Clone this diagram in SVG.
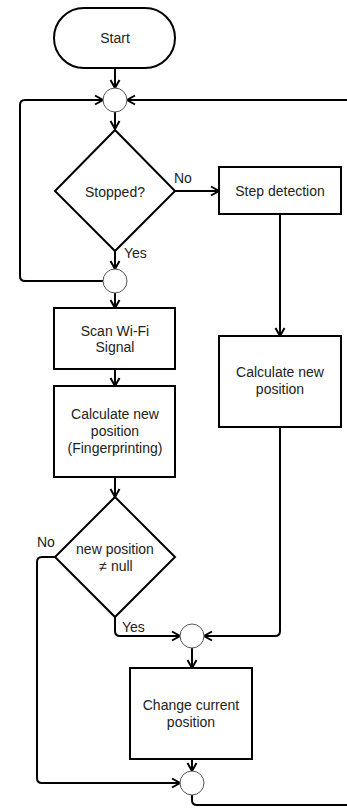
<svg xmlns="http://www.w3.org/2000/svg" width="347" height="808" viewBox="0 0 347 808">
<style>
.s{fill:#fff;stroke:#000;stroke-width:2}
.c{fill:#fff;stroke:#555;stroke-width:1}
.t{font-family:"Liberation Sans",Arial,sans-serif;font-size:14px;fill:#222;text-anchor:middle}
.l{font-family:"Liberation Sans",Arial,sans-serif;font-size:14px;fill:#222}
.e{fill:none;stroke:#000;stroke-width:2}
</style>
<defs>
<marker id="a" markerUnits="userSpaceOnUse" markerWidth="12" markerHeight="12" refX="9" refY="5" orient="auto" viewBox="0 0 12 10">
<path d="M1,0.5 L9,5 L1,9.5" fill="none" stroke="#000" stroke-width="2"/>
</marker>
</defs>
<rect width="347" height="808" fill="#fff"/>
<g id="connectors">
<path class="e" d="M115,68 V88" marker-end="url(#a)"/>
<path class="e" d="M115,112 V129" marker-end="url(#a)"/>
<path class="e" d="M175,191 H219" marker-end="url(#a)"/>
<path class="e" d="M115,251 V269" marker-end="url(#a)"/>
<path class="e" d="M103,281 H25 Q20,281 20,276 V105 Q20,100 25,100 H103" marker-end="url(#a)"/>
<path class="e" d="M115,293 V308" marker-end="url(#a)"/>
<path class="e" d="M115,369 V386" marker-end="url(#a)"/>
<path class="e" d="M115,477 V497" marker-end="url(#a)"/>
<path class="e" d="M115,617 V631 Q115,636 120,636 H180" marker-end="url(#a)"/>
<path class="e" d="M55,557 H42 Q37,557 37,562 V778 Q37,783 42,783 H180" marker-end="url(#a)"/>
<path class="e" d="M280,214 V336" marker-end="url(#a)"/>
<path class="e" d="M280,427 V631 Q280,636 275,636 H204" marker-end="url(#a)"/>
<path class="e" d="M192,648 V668" marker-end="url(#a)"/>
<path class="e" d="M192,759 V771" marker-end="url(#a)"/>
<path class="e" d="M192,795 V800 Q192,805 197,805 H352 V100 H127" marker-end="url(#a)"/>
<text class="l" x="174" y="183">No</text>
<text class="l" x="124" y="258">Yes</text>
<text class="l" x="37" y="547">No</text>
<text class="l" x="122" y="632">Yes</text>
</g>
<g id="start"><rect class="s" x="54" y="8" width="121" height="60" rx="30"/><text class="t" x="115" y="43">Start</text></g>
<g id="merge1"><circle class="c" cx="115" cy="100" r="12"/></g>
<g id="stopped"><polygon class="s" points="115,130 175,191 115,251 55,191"/><text class="t" x="115" y="197">Stopped?</text></g>
<g id="step"><rect class="s" x="219" y="167" width="122" height="47"/><text class="t" x="280" y="196">Step detection</text></g>
<g id="merge2"><circle class="c" cx="115" cy="281" r="12"/></g>
<g id="scan"><rect class="s" x="54" y="308" width="121" height="61"/><text class="t" x="115" y="336">Scan Wi-Fi</text><text class="t" x="115" y="352">Signal</text></g>
<g id="calcfp"><rect class="s" x="54" y="386" width="121" height="91"/><text class="t" x="115" y="419">Calculate new</text><text class="t" x="115" y="436">position</text><text class="t" x="115" y="453">(Fingerprinting)</text></g>
<g id="calcstep"><rect class="s" x="219" y="336" width="122" height="91"/><text class="t" x="280" y="377">Calculate new</text><text class="t" x="280" y="394">position</text></g>
<g id="notnull"><polygon class="s" points="115,497 175,557 115,617 55,557"/><text class="t" x="115" y="554">new position</text><text class="t" x="116" y="571">≠ null</text></g>
<g id="merge3"><circle class="c" cx="192" cy="636" r="12"/></g>
<g id="change"><rect class="s" x="130" y="668" width="122" height="91"/><text class="t" x="191" y="710">Change current</text><text class="t" x="191" y="727">position</text></g>
<g id="merge4"><circle class="c" cx="192" cy="783" r="12"/></g>
</svg>
